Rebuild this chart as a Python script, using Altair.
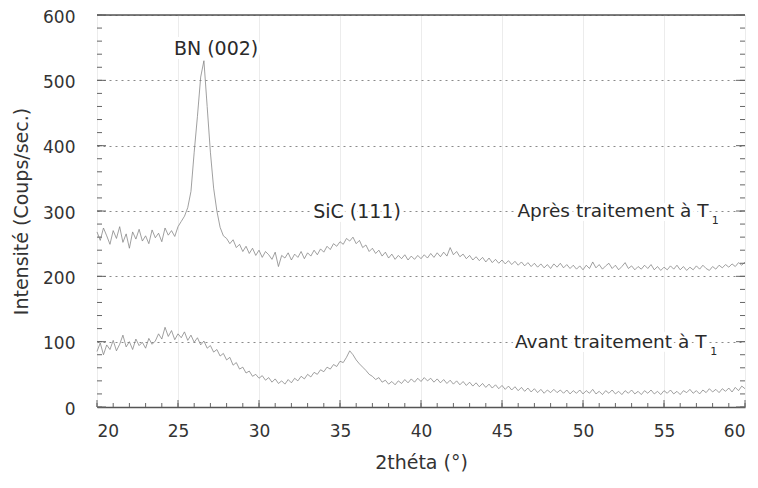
import altair as alt
import pandas as pd

# 2theta sampling grid (degrees), 20 -> 60 every 0.2
two_theta = [round(20 + 0.2 * i, 1) for i in range(201)]

# Intensity after treatment (counts/s)
apres = [
    268, 255, 274, 262, 249,
    270, 258, 276, 252, 265,
    243, 268, 257, 272, 254,
    262, 250, 271, 259, 266,
    253, 274, 263, 270, 261,
    276, 284, 292, 305, 330,
    390, 445, 505, 530, 460,
    390, 335, 300, 275, 262,
    258, 250, 256, 244, 249,
    238, 246, 235, 243, 232,
    240, 229, 238, 233, 226,
    237, 215, 232, 228, 236,
    225, 234, 229, 238, 227,
    236, 231, 240, 233, 242,
    237, 246, 241, 250, 246,
    253, 249, 258, 254, 260,
    250, 255, 244, 248, 238,
    243, 235, 240, 231, 237,
    228, 234, 226, 232, 227,
    233, 225, 231, 226, 232,
    227, 233, 228, 235, 229,
    236, 230, 237, 231, 244,
    233, 238, 230, 234, 227,
    232, 225, 230, 224, 229,
    222, 228, 221, 226, 220,
    225, 219, 224, 218, 223,
    217, 222, 216, 221, 215,
    220, 214, 219, 213, 218,
    212, 219, 214, 220, 213,
    218, 212, 217, 211, 216,
    210, 217, 212, 222, 213,
    218, 211, 216, 220, 212,
    217, 210, 215, 221, 212,
    216, 210, 215, 211, 217,
    212, 218, 210, 215, 209,
    214, 210, 216, 211, 217,
    210, 215, 209, 214, 210,
    216, 211, 217, 212, 209,
    215, 211, 217, 213, 218,
    214, 219, 215, 221, 217,
    222,
]

# Intensity before treatment (counts/s)
avant = [
    85, 98, 80, 95, 88,
    102, 86, 96, 110, 92,
    100, 88, 104, 94, 99,
    90, 105, 96, 101, 112,
    104, 122, 108, 117, 103,
    112, 106, 115, 102, 110,
    99, 106, 95, 101, 90,
    94, 84, 88, 78, 82,
    72, 76, 64, 68, 58,
    61, 52, 55, 47, 50,
    44, 48, 41, 45, 38,
    43, 36, 40, 35, 42,
    37, 44, 40, 47, 43,
    50, 46, 53, 50, 57,
    54, 61, 58, 65, 62,
    70, 68, 76, 86, 80,
    72, 66, 61, 56, 50,
    47, 42, 45, 38, 41,
    35, 39, 34, 40, 36,
    42, 37, 43, 38, 44,
    39, 45, 40, 44, 38,
    43, 37, 42, 36, 41,
    35, 40, 34, 39, 33,
    38, 32, 37, 31, 36,
    30, 35, 29, 34, 28,
    33, 27, 32, 26, 31,
    25, 30, 24, 29, 23,
    28, 22, 27, 21, 26,
    22, 27, 22, 26, 21,
    26, 20, 25, 21, 26,
    20, 25, 21, 27, 20,
    24, 19, 25, 21, 26,
    20, 24, 19, 25, 21,
    26, 20, 24, 19, 25,
    21, 26, 20, 24, 19,
    25, 21, 26, 20, 24,
    19, 25, 22, 27, 21,
    25, 20, 26, 22, 28,
    23, 27, 22, 28, 24,
    29, 23, 30, 25, 32,
    28,
]

x_ticks = [20, 25, 30, 35, 40, 45, 50, 55, 60]
x_minor = list(range(20, 61))
y_ticks = [0, 100, 200, 300, 400, 500, 600]
y_minor = list(range(0, 601, 20))
top_line = [600]

peak_labels = ["BN (002)", "SiC (111)"]
peak_x = [27.35, 36.05]
peak_y = [548, 298]

series_labels = ["Après traitement à T", "Avant traitement à T"]
series_x = [45.95, 45.8]
series_y = [300, 100]
sub_labels = ["1", "1"]
sub_x = [57.95, 57.85]
sub_y = [284, 84]

FONT = "DejaVu Sans"
W, H = 648, 392

df = pd.DataFrame({
    "two_theta": two_theta + two_theta,
    "intensity": apres + avant,
    "serie": ["Après traitement"] * len(apres) + ["Avant traitement"] * len(avant),
})

xs = alt.Scale(domain=[20, 60], nice=False, zero=False)
ys = alt.Scale(domain=[0, 600], nice=False)

lines = alt.Chart(df).mark_line(color="#808080", strokeWidth=0.75).encode(
    x=alt.X("two_theta:Q", scale=xs,
            axis=alt.Axis(values=x_ticks, title="2théta (°)", ticks=False,
                          labelPadding=16, labelFontSize=17, labelFont=FONT,
                          labelColor="#333", titleFont=FONT, titleFontSize=19,
                          titleFontWeight="normal", titleColor="#333",
                          titlePadding=14, domainColor="#555", domainWidth=1.5,
                          grid=True, gridColor="#ececec", gridWidth=1)),
    y=alt.Y("intensity:Q", scale=ys,
            axis=alt.Axis(values=y_ticks, title="Intensité (Coups/sec.)",
                          ticks=False, domain=False, labelPadding=22,
                          labelOffset=2,
                          labelFontSize=17, labelFont=FONT, labelColor="#333",
                          titleFont=FONT, titleFontSize=19,
                          titleFontWeight="normal", titleColor="#333",
                          titlePadding=11, grid=True, gridColor="#8a8a8a",
                          gridDash=[2, 4], gridWidth=1)),
    detail="serie:N",
)

top = alt.Chart(pd.DataFrame({"v": top_line})).mark_rule(
    color="#555", strokeWidth=1.5).encode(y=alt.Y("v:Q", scale=ys))

ymin_df = pd.DataFrame({"v": y_minor})
ymaj_df = pd.DataFrame({"v": y_ticks})
xmin_df = pd.DataFrame({"v": x_minor})
xmaj_df = pd.DataFrame({"v": x_ticks})

tick_style = dict(color="#666", strokeWidth=1)
left_minor = alt.Chart(ymin_df).mark_rule(**tick_style).encode(
    y=alt.Y("v:Q", scale=ys), x=alt.value(0), x2=alt.value(5))
left_major = alt.Chart(ymaj_df).mark_rule(**tick_style).encode(
    y=alt.Y("v:Q", scale=ys), x=alt.value(0), x2=alt.value(9))
right_minor = alt.Chart(ymin_df).mark_rule(**tick_style).encode(
    y=alt.Y("v:Q", scale=ys), x=alt.value(W - 5), x2=alt.value(W))
right_major = alt.Chart(ymaj_df).mark_rule(**tick_style).encode(
    y=alt.Y("v:Q", scale=ys), x=alt.value(W - 9), x2=alt.value(W))
bottom_minor = alt.Chart(xmin_df).mark_rule(**tick_style).encode(
    x=alt.X("v:Q", scale=xs), y=alt.value(H), y2=alt.value(H - 4))
bottom_major = alt.Chart(xmaj_df).mark_rule(**tick_style).encode(
    x=alt.X("v:Q", scale=xs), y=alt.value(H), y2=alt.value(H - 7))

peak_df = pd.DataFrame({"x": peak_x, "y": peak_y, "t": peak_labels})
ser_df = pd.DataFrame({"x": series_x, "y": series_y, "t": series_labels})
sub_df = pd.DataFrame({"x": sub_x, "y": sub_y, "t": sub_labels})


def text_layers(data, align, size):
    enc = dict(x=alt.X("x:Q", scale=xs), y=alt.Y("y:Q", scale=ys), text="t:N")
    halo = alt.Chart(data).mark_text(
        align=align, baseline="middle", font=FONT, fontSize=size,
        stroke="white", strokeWidth=8, strokeJoin="round", color="white"
    ).encode(**enc)
    txt = alt.Chart(data).mark_text(
        align=align, baseline="middle", font=FONT, fontSize=size, color="#2a2a2a"
    ).encode(**enc)
    return [halo, txt]


layers = [lines, top, left_minor, left_major, right_minor, right_major,
          bottom_minor, bottom_major]
layers += text_layers(peak_df, "center", 19)
layers += text_layers(ser_df, "left", 18.5)
layers += text_layers(sub_df, "left", 11)

chart = alt.layer(*layers).properties(
    width=W, height=H,
    autosize=alt.AutoSizeParams(type="none"),
    padding={"left": 89, "top": 7, "right": 5, "bottom": 73},
).configure_view(stroke=None).configure(background="white")

chart.save("out.html", embed_options={"renderer": "svg", "actions": False})
